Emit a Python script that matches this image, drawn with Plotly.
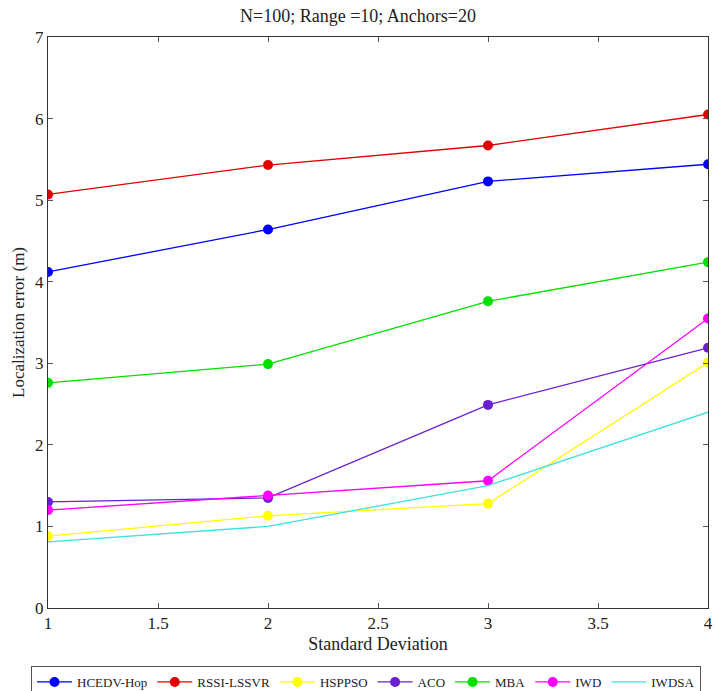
import plotly.graph_objects as go

x_vals = [1, 2, 3, 4]
series_names = ["HCEDV-Hop", "RSSI-LSSVR", "HSPPSO", "ACO", "MBA", "IWD", "IWDSA"]
hcedv = [4.12, 4.64, 5.23, 5.44]
rssi = [5.07, 5.43, 5.67, 6.05]
hsppso = [0.88, 1.13, 1.28, 3.01]
aco = [1.30, 1.35, 2.49, 3.19]
mba = [2.76, 2.99, 3.76, 4.24]
iwd = [1.20, 1.38, 1.56, 3.55]
iwdsa = [0.81, 1.00, 1.50, 2.40]
colors = ["#0000ff", "#e00000", "#ffff00", "#6a1fd0", "#00e000", "#ff00ff", "#3fe0e0"]
has_marker = [True, True, True, True, True, True, False]
all_series = [hcedv, rssi, hsppso, aco, mba, iwd, iwdsa]

fig = go.Figure()
for name, vals, c, m in zip(series_names, all_series, colors, has_marker):
    fig.add_trace(go.Scatter(
        x=x_vals, y=vals, name=name,
        mode="lines+markers" if m else "lines",
        line=dict(color=c, width=1.3),
        marker=dict(color=c, size=10),
    ))

font_family = "Liberation Serif, Times New Roman, serif"
fig.update_layout(
    width=716, height=691,
    margin=dict(l=48, r=8, t=37, b=83, autoexpand=False),
    paper_bgcolor="white", plot_bgcolor="white",
    font=dict(family=font_family, size=17, color="#222"),
    title=dict(text="N=100; Range =10; Anchors=20", x=0.5, xanchor="center",
               y=1 - 16/691, yanchor="middle", font=dict(size=18, family=font_family)),
    xaxis=dict(range=[1, 4], tickvals=[1, 1.5, 2, 2.5, 3, 3.5, 4],
               ticktext=["1", "1.5", "2", "2.5", "3", "3.5", "4"],
               showgrid=False, zeroline=False, showline=True, linecolor="#333", linewidth=1,
               mirror="ticks", ticks="inside", ticklen=5, tickcolor="#555",
               title=dict(text="Standard Deviation", standoff=4, font=dict(size=18, family=font_family)),
               tickfont=dict(size=17, family=font_family)),
    yaxis=dict(range=[0, 7], tickvals=[0, 1, 2, 3, 4, 5, 6, 7],
               showgrid=False, zeroline=False, showline=True, linecolor="#333", linewidth=1,
               mirror="ticks", ticks="inside", ticklen=5, tickcolor="#555",
               title=dict(text="Localization error (m)", standoff=6, font=dict(size=17, family=font_family)),
               tickfont=dict(size=17, family=font_family)),
    legend=dict(orientation="h", x=(31 - 48) / 660, xanchor="left", y=(608 - 666) / 571, yanchor="top",
                bordercolor="#555", borderwidth=1, bgcolor="white",
                font=dict(size=13, family=font_family), itemwidth=35,
                tracegroupgap=0),
    showlegend=True,
)

fig.write_html("out.html")
